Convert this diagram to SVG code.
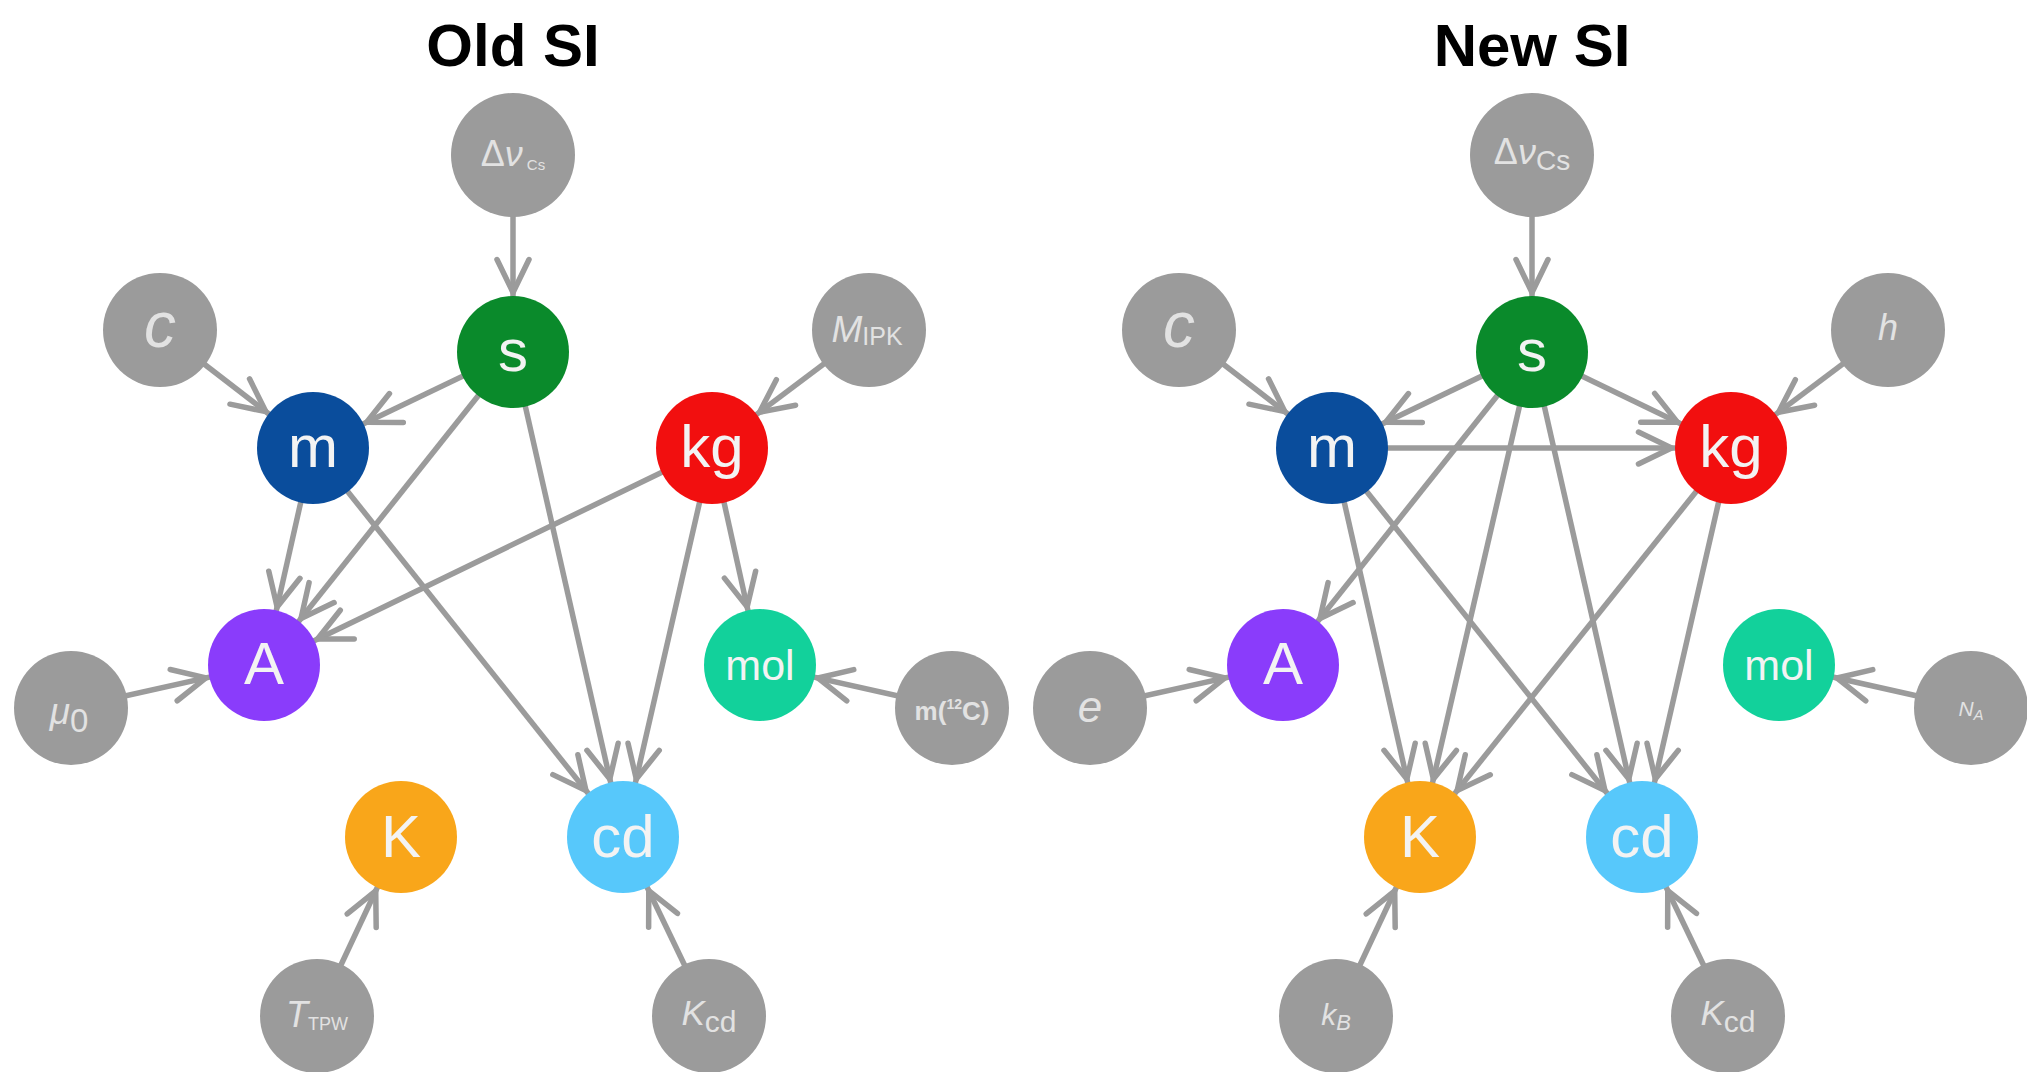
<svg xmlns="http://www.w3.org/2000/svg" width="2027" height="1072" viewBox="0 0 2027 1072">
<defs>
<style>
.bg{fill:#ffffff}
.title{font-family:"Liberation Sans",Arial,sans-serif;font-weight:bold;font-size:60px;fill:#000;text-anchor:middle}
.gray{fill:#9b9b9b}
.lbl{font-family:"Liberation Sans",Arial,sans-serif;font-size:60px;fill:#f3f3f3;text-anchor:middle}
.lbl.small{font-size:43px}
.glbl{font-family:"Liberation Sans",Arial,sans-serif;fill:#e2e2e2;text-anchor:middle}
.it{font-style:italic}
.edge{stroke:#9b9b9b;stroke-width:5.5;fill:none;marker-end:url(#arr)}
</style>
<marker id="arr" markerUnits="userSpaceOnUse" orient="auto" overflow="visible" markerWidth="1" markerHeight="1" refX="0" refY="0">
<path d="M-92.5,-16 L-59.5,0 L-92.5,16" fill="none" stroke="#9b9b9b" stroke-width="5.5" stroke-linejoin="round" stroke-linecap="round"/>
</marker>
</defs>
<rect class="bg" x="0" y="0" width="2027" height="1072"/>
<text class="title" x="513" y="66">Old SI</text>
<text class="title" x="1532" y="66">New SI</text>

<g id="connectors">
<!-- Old SI -->
<line class="edge" x1="513" y1="155" x2="513" y2="352"/>
<line class="edge" x1="160" y1="330" x2="313" y2="448"/>
<line class="edge" x1="513" y1="352" x2="313" y2="448"/>
<line class="edge" x1="869" y1="330" x2="712" y2="448"/>
<line class="edge" x1="513" y1="352" x2="264" y2="665"/>
<line class="edge" x1="313" y1="448" x2="264" y2="665"/>
<line class="edge" x1="712" y1="448" x2="264" y2="665"/>
<line class="edge" x1="71" y1="708" x2="264" y2="665"/>
<line class="edge" x1="513" y1="352" x2="623" y2="837"/>
<line class="edge" x1="313" y1="448" x2="623" y2="837"/>
<line class="edge" x1="712" y1="448" x2="623" y2="837"/>
<line class="edge" x1="712" y1="448" x2="760" y2="665"/>
<line class="edge" x1="952" y1="708" x2="760" y2="665"/>
<line class="edge" x1="317" y1="1016" x2="401" y2="837"/>
<line class="edge" x1="709" y1="1016" x2="623" y2="837"/>
<!-- New SI -->
<line class="edge" x1="1532" y1="155" x2="1532" y2="352"/>
<line class="edge" x1="1179" y1="330" x2="1332" y2="448"/>
<line class="edge" x1="1888" y1="330" x2="1731" y2="448"/>
<line class="edge" x1="1532" y1="352" x2="1332" y2="448"/>
<line class="edge" x1="1532" y1="352" x2="1731" y2="448"/>
<line class="edge" x1="1332" y1="448" x2="1731" y2="448"/>
<line class="edge" x1="1532" y1="352" x2="1283" y2="665"/>
<line class="edge" x1="1532" y1="352" x2="1420" y2="837"/>
<line class="edge" x1="1532" y1="352" x2="1642" y2="837"/>
<line class="edge" x1="1332" y1="448" x2="1420" y2="837"/>
<line class="edge" x1="1332" y1="448" x2="1642" y2="837"/>
<line class="edge" x1="1731" y1="448" x2="1420" y2="837"/>
<line class="edge" x1="1731" y1="448" x2="1642" y2="837"/>
<line class="edge" x1="1090" y1="708" x2="1283" y2="665"/>
<line class="edge" x1="1971" y1="708" x2="1779" y2="665"/>
<line class="edge" x1="1336" y1="1016" x2="1420" y2="837"/>
<line class="edge" x1="1728" y1="1016" x2="1642" y2="837"/>
</g>

<!-- Old SI nodes -->
<g id="old-dnu"><circle class="gray" cx="513" cy="155" r="62"/><text class="glbl" x="513" y="166" font-size="36">Δ<tspan class="it">ν</tspan><tspan font-size="15" dx="4" dy="4">Cs</tspan></text></g>
<g id="old-s"><circle cx="513" cy="352" r="56" fill="#0a8a2b"/><text class="lbl" x="513" y="371">s</text></g>
<g id="old-c"><circle class="gray" cx="160" cy="330" r="57"/><text class="glbl it" x="160" y="347" font-size="64">c</text></g>
<g id="old-mipk"><circle class="gray" cx="869" cy="330" r="57"/><text class="glbl" x="867" y="342" font-size="37"><tspan class="it">M</tspan><tspan font-size="25" dy="3">IPK</tspan></text></g>
<g id="old-m"><circle cx="313" cy="448" r="56" fill="#0a4d9c"/><text class="lbl" x="313" y="467">m</text></g>
<g id="old-kg"><circle cx="712" cy="448" r="56" fill="#f20f0f"/><text class="lbl" x="712" y="467">kg</text></g>
<g id="old-A"><circle cx="264" cy="665" r="56" fill="#8a3cfb"/><text class="lbl" x="264" y="684">A</text></g>
<g id="old-mol"><circle cx="760" cy="665" r="56" fill="#12d19b"/><text class="lbl small" x="760" y="680">mol</text></g>
<g id="old-mu0"><circle class="gray" cx="71" cy="708" r="57"/><text class="glbl" x="69" y="724" font-size="37"><tspan class="it">μ</tspan><tspan font-size="33" dy="8">0</tspan></text></g>
<g id="old-m12c"><circle class="gray" cx="952" cy="708" r="57"/><text class="glbl" x="952" y="720" font-size="26" font-weight="bold">m(<tspan font-size="14" dy="-11">12</tspan><tspan dy="11">C)</tspan></text></g>
<g id="old-K"><circle cx="401" cy="837" r="56" fill="#f9a61a"/><text class="lbl" x="401" y="857">K</text></g>
<g id="old-cd"><circle cx="623" cy="837" r="56" fill="#57c8fb"/><text class="lbl" x="623" y="857">cd</text></g>
<g id="old-ttpw"><circle class="gray" cx="317" cy="1016" r="57"/><text class="glbl" x="317" y="1027" font-size="36"><tspan class="it">T</tspan><tspan font-size="18" dy="3">TPW</tspan></text></g>
<g id="old-kcd"><circle class="gray" cx="709" cy="1016" r="57"/><text class="glbl" x="709" y="1025" font-size="35"><tspan class="it">K</tspan><tspan font-size="30" dy="7">cd</tspan></text></g>

<!-- New SI nodes -->
<g id="new-dnu"><circle class="gray" cx="1532" cy="155" r="62"/><text class="glbl" x="1532" y="164" font-size="36">Δ<tspan class="it">ν</tspan><tspan font-size="28" dy="6">Cs</tspan></text></g>
<g id="new-s"><circle cx="1532" cy="352" r="56" fill="#0a8a2b"/><text class="lbl" x="1532" y="371">s</text></g>
<g id="new-c"><circle class="gray" cx="1179" cy="330" r="57"/><text class="glbl it" x="1179" y="347" font-size="64">c</text></g>
<g id="new-h"><circle class="gray" cx="1888" cy="330" r="57"/><text class="glbl it" x="1888" y="340" font-size="36">h</text></g>
<g id="new-m"><circle cx="1332" cy="448" r="56" fill="#0a4d9c"/><text class="lbl" x="1332" y="467">m</text></g>
<g id="new-kg"><circle cx="1731" cy="448" r="56" fill="#f20f0f"/><text class="lbl" x="1731" y="467">kg</text></g>
<g id="new-A"><circle cx="1283" cy="665" r="56" fill="#8a3cfb"/><text class="lbl" x="1283" y="684">A</text></g>
<g id="new-mol"><circle cx="1779" cy="665" r="56" fill="#12d19b"/><text class="lbl small" x="1779" y="680">mol</text></g>
<g id="new-e"><circle class="gray" cx="1090" cy="708" r="57"/><text class="glbl it" x="1090" y="722" font-size="44">e</text></g>
<g id="new-na"><circle class="gray" cx="1971" cy="708" r="57"/><text class="glbl it" x="1971" y="716" font-size="21">N<tspan font-size="15" dy="4">A</tspan></text></g>
<g id="new-K"><circle cx="1420" cy="837" r="56" fill="#f9a61a"/><text class="lbl" x="1420" y="857">K</text></g>
<g id="new-cd"><circle cx="1642" cy="837" r="56" fill="#57c8fb"/><text class="lbl" x="1642" y="857">cd</text></g>
<g id="new-kb"><circle class="gray" cx="1336" cy="1016" r="57"/><text class="glbl it" x="1336" y="1025" font-size="30">k<tspan font-size="22" dy="5">B</tspan></text></g>
<g id="new-kcd"><circle class="gray" cx="1728" cy="1016" r="57"/><text class="glbl" x="1728" y="1025" font-size="35"><tspan class="it">K</tspan><tspan font-size="30" dy="7">cd</tspan></text></g>
</svg>
